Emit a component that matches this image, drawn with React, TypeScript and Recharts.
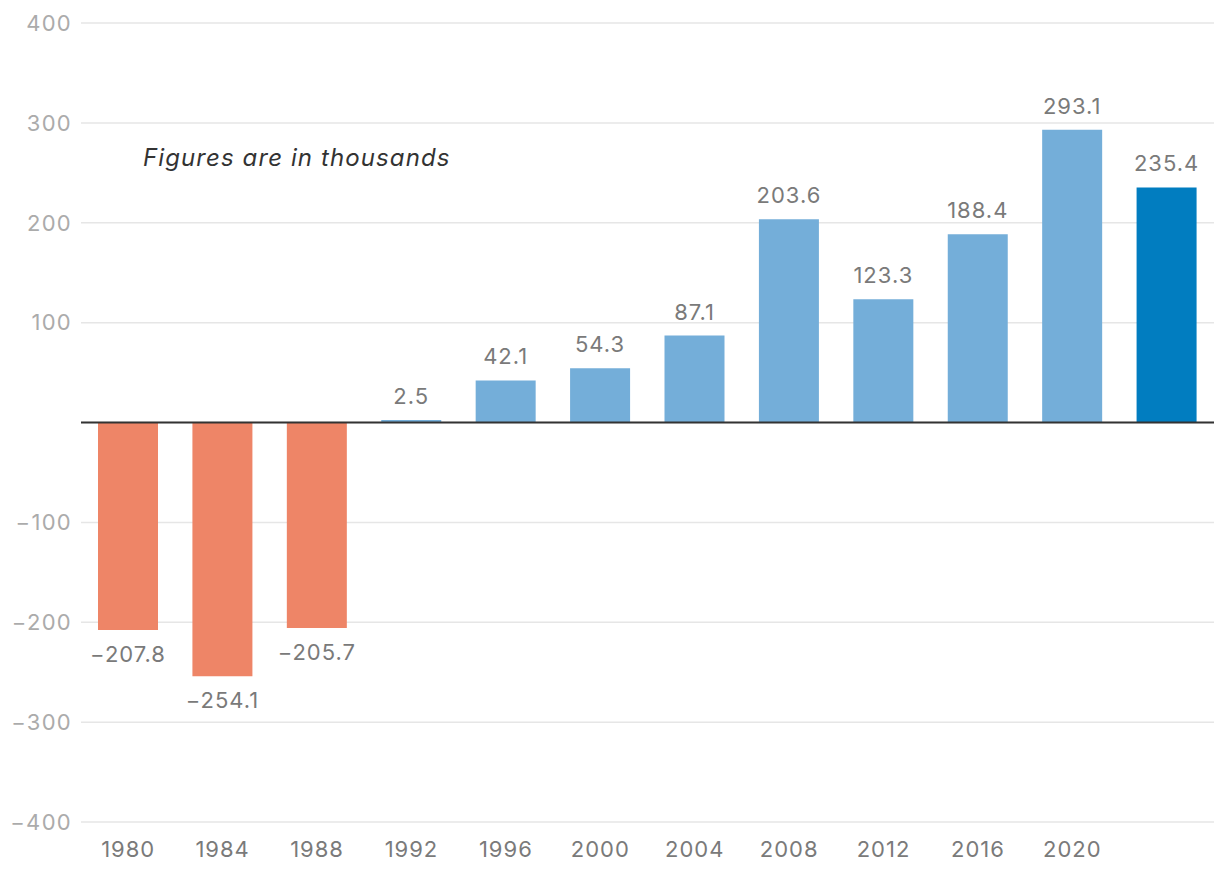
import { BarChart, Bar, XAxis, YAxis, CartesianGrid, ReferenceLine, Cell, LabelList } from "recharts";

const years = ["1980", "1984", "1988", "1992", "1996", "2000", "2004", "2008", "2012", "2016", "2020", ""];
const values = [-207.8, -254.1, -205.7, 2.5, 42.1, 54.3, 87.1, 203.6, 123.3, 188.4, 293.1, 235.4];
const yTicks = [-400, -300, -200, -100, 0, 100, 200, 300, 400];

const NEG = "#ee8567";
const POS = "#74aed9";
const LAST = "#017dc0";
const FONT = "Inter, 'Noto Sans', sans-serif";

const data = years.map((year, i) => ({ year, value: values[i] }));

// минус как в оригинале — длинный
const fmt = (v: number) => (v < 0 ? "\u2212" + Math.abs(v) : String(v));

function ValueLabel(props: any) {
  const { x, y, width, height, value } = props;
  const top = Math.min(y, y + height);
  const bottom = Math.max(y, y + height);
  const ty = value < 0 ? bottom + 32 : top - 16;
  return (
    <text
      x={x + width / 2}
      y={ty}
      textAnchor="middle"
      fill="#7a7a7a"
      fontSize={22}
      letterSpacing={1}
      fontFamily={FONT}
    >
      {fmt(value)}
    </text>
  );
}

export default function App() {
  return (
    <div style={{ position: "absolute", left: 0, top: 0, width: 1220, height: 878, background: "#fff" }}>
      <BarChart width={1220} height={878} data={data} margin={{ top: 23, right: 6, bottom: 0, left: 0 }}>
        <CartesianGrid vertical={false} stroke="#e6e6e6" strokeWidth={1.5} />
        <XAxis
          dataKey="year"
          axisLine={false}
          tickLine={false}
          tickSize={0}
          tickMargin={19}
          height={56}
          interval={0}
          tick={{ fill: "#7a7a7a", fontSize: 22, fontFamily: FONT, letterSpacing: 1 }}
        />
        <YAxis
          domain={[-400, 400]}
          ticks={yTicks}
          width={81}
          axisLine={false}
          tickLine={false}
          tickSize={0}
          tickMargin={9}
          tickFormatter={(v: number) => (v === 0 ? "" : fmt(v))}
          tick={{ fill: "#ababab", fontSize: 22, fontFamily: FONT, letterSpacing: 1.3 }}
        />
        <ReferenceLine y={0} stroke="#333" strokeWidth={2} />
        <Bar dataKey="value" barSize={60} isAnimationActive={false}>
          {data.map((d, i) => (
            <Cell key={i} fill={i === data.length - 1 ? LAST : d.value < 0 ? NEG : POS} />
          ))}
          <LabelList dataKey="value" content={ValueLabel} />
        </Bar>
      </BarChart>
      <div
        style={{
          position: "absolute",
          left: 143,
          top: 143,
          fontFamily: FONT,
          fontStyle: "italic",
          fontSize: 24,
          letterSpacing: 1.1,
          color: "#333",
          whiteSpace: "nowrap",
        }}
      >
        Figures are in thousands
      </div>
    </div>
  );
}
